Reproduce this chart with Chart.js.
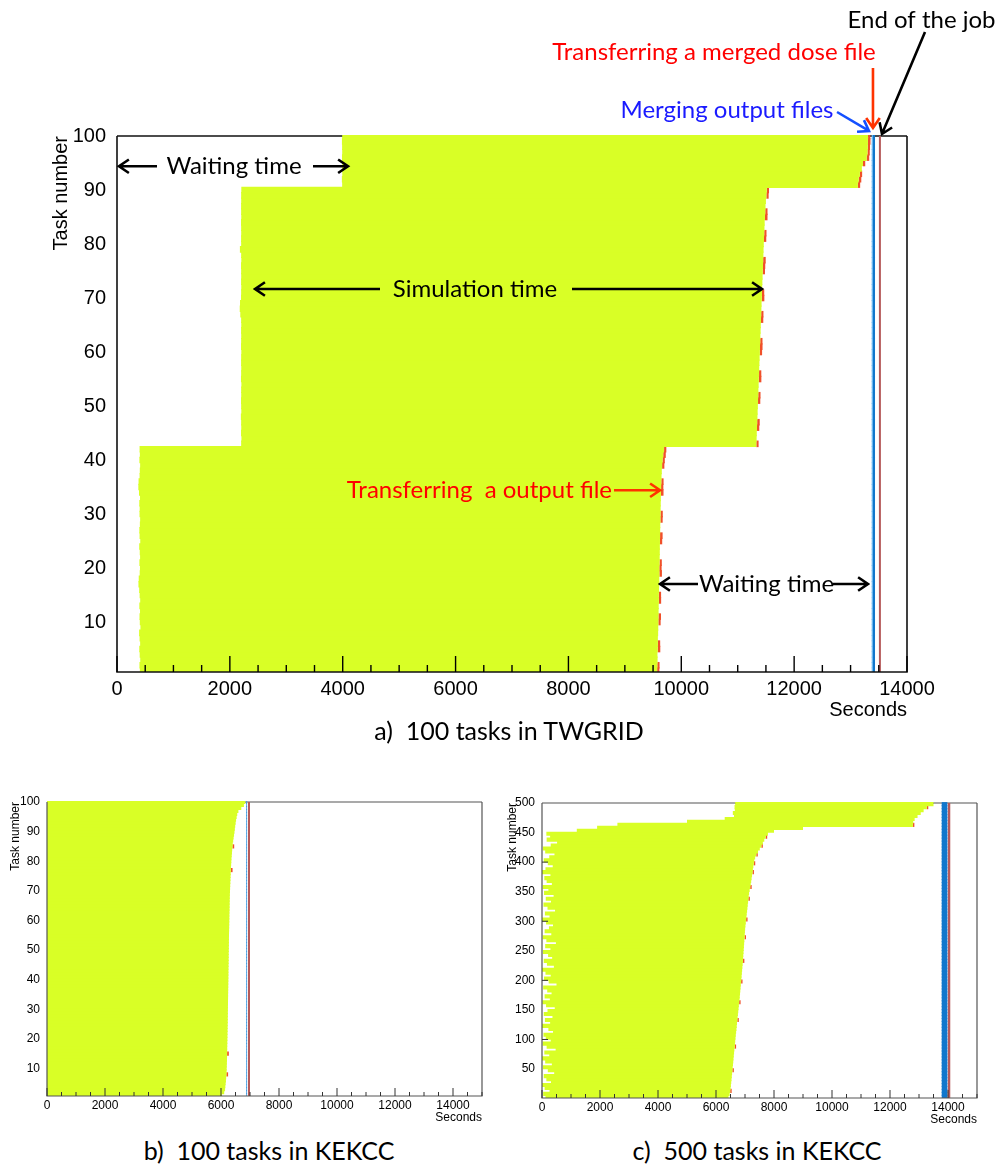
<!DOCTYPE html>
<html>
<head>
<meta charset="utf-8">
<script src="https://cdn.jsdelivr.net/npm/chart.js@4.4.1/dist/chart.umd.min.js"></script>
<style>
  body { margin: 0; background: #fff; }
  #page { position: relative; width: 999px; height: 1171px; overflow: hidden; background: #fff; }
  canvas { position: absolute; }
  .cap { position: absolute; font-family: Lato, sans-serif; font-size: 25px; line-height: 30px;
         color: #000; white-space: pre; transform: translateX(-50%); }
</style>
</head>
<body>
<div id="page">
  <canvas id="chartA" width="999" height="722" style="left:0;top:0"></canvas>
  <canvas id="chartB" width="499" height="350" style="left:0;top:780px"></canvas>
  <canvas id="chartC" width="500" height="350" style="left:499px;top:780px"></canvas>
  <div class="cap" style="left:509px;top:715px">a)  100 tasks in TWGRID</div>
  <div class="cap" style="left:269px;top:1135px">b)  100 tasks in KEKCC</div>
  <div class="cap" style="left:757px;top:1135px">c)  500 tasks in KEKCC</div>
</div>
<script>
// ---- a) 100 tasks in TWGRID (seconds) ----
const tasksA = Array.from({length: 100}, (_, i) => i + 1);
const startA = [
  405,398,412,402,395,410,400,392,415,404, 399,408,396,411,401,393,380,385,402,407,
  397,409,403,394,412,400,396,405,410,399, 402,395,408,390,378,382,400,404,410,397,
  405,400,
  2200,2205,2198,2202,2200,2195,2203,2200,2198,2201, 2200,2204,2197,2200,2202,2199,2200,2203,2198,2200,
  2201,2199,2202,2200,2185,2175,2180,2198,2200,2202, 2199,2201,2200,2198,2203,2200,2178,2200,2199,2201,
  2200,2198,2202,2200,2199,2201,2200,2203,
  3990,3985,3992,3988,3990,3987,3991,3989,3986,3990
];
const simEndA = [
  9572,9575,9580,9578,9583,9586,9585,9590,9592,9594, 9596,9598,9600,9603,9602,9606,9608,9610,9612,9611,
  9615,9617,9619,9620,9622,9624,9626,9628,9630,9632, 9634,9636,9638,9640,9642,9646,9650,9655,9660,9668,
  9680,9695,
  11330,11335,11338,11342,11345,11350,11353,11357,11360,11364, 11367,11371,11374,11378,11381,11385,11388,11392,11395,11399,
  11402,11406,11409,11413,11416,11420,11423,11427,11430,11434, 11437,11441,11444,11448,11451,11455,11458,11462,11466,11470,
  11474,11478,11483,11488,11493,11500,11508,11515,
  13130,13145,13165,13200,13220,13285,13300,13305,13308,13310
];
const xferA = [
  40,40,0,0,45,40,0,0,0,40, 45,0,0,40,40,0,0,0,45,40, 40,0,0,0,40,45,0,0,40,40,
  0,0,0,45,40,40,0,0,40,40, 45,40,
  40,0,0,40,45,0,0,0,40,40, 0,0,45,40,0,0,0,40,45,40, 0,0,0,40,40,0,0,45,40,0,
  0,0,40,40,45,0,0,0,40,40, 0,0,45,40,0,0,40,40,
  40,45,40,0,40,45,40,40,45,40
];
const mergeA = [13370, 13435];
const jobEndA = 13520;
const xTicksA = [0, 2000, 4000, 6000, 8000, 10000, 12000, 14000];
const yTicksA = [10, 20, 30, 40, 50, 60, 70, 80, 90, 100];

// ---- b) 100 tasks in KEKCC ----
const tasksB = Array.from({length: 100}, (_, i) => i + 1);
const startB = [
  0,0,0,0,0,0,0,0,0,0, 0,0,0,0,0,0,0,0,0,0, 0,0,0,0,0,0,0,0,0,0, 0,0,0,0,0,0,0,0,0,0,
  0,0,0,0,0,0,0,0,0,0, 0,0,0,0,0,0,0,0,0,0, 0,0,0,0,0,0,0,0,0,0, 0,0,0,0,0,0,0,0,0,0,
  0,0,0,0,0,0,0,0,0,0, 0,0,0,0,0,0,0,0,0,0
];
const simEndB = [
  6030,6110,6140,6150,6160,6170,6178,6185,6192,6196, 6200,6203,6206,6208,6210,6212,6214,6216,6218,6220,
  6222,6224,6226,6228,6230,6232,6233,6235,6236,6238, 6239,6241,6242,6244,6245,6247,6248,6250,6251,6253,
  6254,6256,6257,6259,6260,6262,6263,6265,6266,6268, 6269,6271,6272,6274,6276,6278,6280,6282,6284,6286,
  6288,6290,6292,6294,6296,6298,6300,6303,6306,6310, 6314,6318,6322,6326,6330,6334,6339,6344,6350,6356,
  6362,6370,6378,6386,6395,6405,6420,6435,6450,6465, 6478,6490,6505,6520,6540,6560,6600,6700,6790,6840
];
const xferB = [
  0,0,0,0,0,0,0,60,0,0, 0,0,0,0,60,0,0,0,0,0, 0,0,0,0,0,0,0,0,0,0, 0,0,0,0,0,0,0,0,0,0,
  0,0,0,0,0,0,0,0,0,0, 0,0,0,0,0,0,0,0,0,0, 0,0,0,0,0,0,0,0,0,0, 0,0,0,0,0,0,60,0,0,0,
  0,0,0,0,60,0,0,0,0,0, 0,0,0,0,0,0,0,0,0,0
];
const mergeB = [6862, 6905];
const jobEndB = 6965;
const xTicksBC = [0, 2000, 4000, 6000, 8000, 10000, 12000, 14000];
const yTicksB = [10, 20, 30, 40, 50, 60, 70, 80, 90, 100];

// ---- c) 500 tasks in KEKCC, read in groups of 5 tasks (centre task) ----
const tasksC = Array.from({length: 100}, (_, k) => 5 * k + 3);
const startC = [
  120,40,260,90,0,310,150,60,420,200, 30,340,110,0,250,80,470,160,20,300,
  130,50,380,220,0,280,100,360,60,190, 440,140,10,270,90,330,180,40,500,230,
  70,300,120,0,410,170,60,350,210,30, 290,110,480,150,20,320,90,240,380,140,
  0,260,100,450,190,50,310,130,400,70, 220,20,340,160,80,290,0,120,370,200,
  60,250,430,110,30,300,520,160,280,150, 1200,1900,2600,5000,6300,6620,6580,6650,6640,6660
];
const simEndC = [
  6430,6470,6490,6505,6515,6525,6535,6545,6555,6565, 6575,6585,6595,6603,6613,6623,6633,6643,6653,6663,
  6673,6683,6694,6705,6715,6725,6736,6746,6757,6767, 6778,6788,6798,6809,6819,6829,6838,6847,6856,6865,
  6874,6883,6892,6901,6910,6919,6928,6935,6942,6949, 6956,6963,6970,6977,6984,6991,6998,7005,7015,7027,
  7038,7049,7060,7072,7083,7094,7106,7117,7128,7140, 7160,7180,7198,7213,7228,7243,7258,7273,7288,7303,
  7318,7350,7390,7450,7510,7565,7615,7665,7715,7790, 8000,9000,12790,12800,12850,12950,13060,13160,13270,13500
];
const xferC = [
  0,0,50,0,0,0,0,0,0,50, 0,0,0,0,0,0,0,50,0,0, 0,0,0,0,0,0,50,0,0,0, 0,0,50,0,0,0,0,0,0,50,
  0,0,0,0,0,0,50,0,0,0, 0,0,0,0,50,0,0,0,0,0, 50,0,0,0,0,0,0,50,0,0, 0,50,0,0,0,0,50,0,0,50,
  0,0,50,0,0,50,0,0,50,0, 0,0,50,0,0,0,0,0,50,0
];
const mergeC = [13783, 13976];
const jobEndC = 14035;
const yTicksC = [50, 100, 150, 200, 250, 300, 350, 400, 450, 500];

const YELLOW = '#d9ff26';
const XFER = '#f0502a';
const MERGE = '#1177cc';
const MERGE_EDGE = '#6cb8f0';
const JOB_END = '#b65a5a';

Chart.defaults.font.family = "'Liberation Sans', Arial, sans-serif";

// frame and inward tick marks in the ROOT style
const frameTicks = {
  id: 'frameTicks',
  beforeDatasetsDraw(chart, args, o) {
    const {ctx, chartArea: a} = chart;
    ctx.save();
    ctx.strokeStyle = o.frameColor;
    ctx.lineWidth = o.frameWidth;
    ctx.beginPath();
    ctx.moveTo(a.left, a.top);
    ctx.lineTo(a.right, a.top);
    ctx.stroke();
    ctx.restore();
  },
  afterDatasetsDraw(chart, args, o) {
    const {ctx, chartArea: a, scales: {x, y}} = chart;
    ctx.save();
    ctx.strokeStyle = o.frameColor;
    ctx.lineWidth = o.frameWidth;
    ctx.beginPath();
    ctx.moveTo(a.left, a.top);
    ctx.lineTo(a.left, a.bottom);
    ctx.lineTo(a.right, a.bottom);
    ctx.lineTo(a.right, a.top);
    ctx.stroke();
    ctx.strokeStyle = o.tickColor;
    ctx.lineWidth = o.tickWidth;
    ctx.beginPath();
    for (let v = x.min; v <= x.max; v += o.minor) {
      const px = x.getPixelForValue(v);
      const len = v % o.major === 0 ? o.majorLen : o.minorLen;
      ctx.moveTo(px, a.bottom);
      ctx.lineTo(px, a.bottom - len);
    }
    (o.yTicks || []).forEach(v => {
      const py = y.getPixelForValue(v);
      ctx.moveTo(a.left, py);
      ctx.lineTo(a.left + o.yLen, py);
    });
    ctx.stroke();
    ctx.restore();
  }
};

function arrow(ctx, x1, y1, x2, y2, color) {
  const ang = Math.atan2(y2 - y1, x2 - x1);
  const h = 12;
  ctx.strokeStyle = color;
  ctx.lineWidth = 2.6;
  ctx.lineJoin = 'miter';
  ctx.beginPath();
  ctx.moveTo(x1, y1);
  ctx.lineTo(x2 - 1.5 * Math.cos(ang), y2 - 1.5 * Math.sin(ang));
  ctx.moveTo(x2 - h * Math.cos(ang - 0.6), y2 - h * Math.sin(ang - 0.6));
  ctx.lineTo(x2, y2);
  ctx.lineTo(x2 - h * Math.cos(ang + 0.6), y2 - h * Math.sin(ang + 0.6));
  ctx.stroke();
}

// text labels and arrows; x in seconds, y in task number or dy pixels from the frame top
const notes = {
  id: 'notes',
  afterDatasetsDraw(chart, args, o) {
    const {ctx, chartArea, scales: {x, y}} = chart;
    const pt = p => [x.getPixelForValue(p.x), p.dy !== undefined ? chartArea.top + p.dy : y.getPixelForValue(p.y)];
    ctx.save();
    ctx.font = o.font;
    ctx.textBaseline = 'middle';
    o.items.forEach(it => {
      if (it.text) {
        const [px, py] = pt(it.at);
        ctx.fillStyle = it.color;
        ctx.textAlign = it.align || 'center';
        ctx.fillText(it.text, px, py);
      } else {
        const [x1, y1] = pt(it.from);
        const [x2, y2] = pt(it.to);
        arrow(ctx, x1, y1, x2, y2, it.color);
      }
    });
    ctx.restore();
  }
};

function taskChart(id, o, plugins, pluginOpts) {
  const barBase = {
    indexAxis: 'y', grouped: false, barPercentage: o.overlap, categoryPercentage: 1,
    borderWidth: 0, clip: {left: 0, right: 0, top: 1, bottom: 0}
  };
  const last = o.tasks.length - 1;
  return new Chart(document.getElementById(id), {
    type: 'bar',
    data: {
      datasets: [
        {...barBase, label: 'Simulation', backgroundColor: YELLOW,
         data: o.tasks.map((t, i) => ({y: t, x: [o.start[i], o.simEnd[i]]}))},
        {...barBase, label: 'Transfer', backgroundColor: XFER,
         data: o.tasks.map((t, i) => ({y: t, x: [o.simEnd[i], o.simEnd[i] + o.xfer[i]]}))},
        {...barBase, label: 'Merging', backgroundColor: MERGE, borderColor: MERGE_EDGE,
         borderWidth: {left: o.mergeEdge, right: 0, top: 0, bottom: 0}, borderSkipped: false,
         data: o.tasks.map(t => ({y: t, x: o.merge}))},
        {type: 'line', label: 'End', borderColor: JOB_END, borderWidth: o.endWidth, pointRadius: 0,
         data: [{x: o.jobEnd, y: o.yMin}, {x: o.jobEnd, y: o.yMax}]},
        {type: 'line', label: 'top', borderColor: '#000', borderWidth: 1, borderDash: [1, 2], pointRadius: 0,
         data: [{x: o.start[last], y: o.yMax}, {x: o.simEnd[last], y: o.yMax}]}
      ]
    },
    options: {
      responsive: false,
      animation: false,
      devicePixelRatio: 1,
      layout: {padding: o.padding},
      plugins: Object.assign({legend: {display: false}, tooltip: {enabled: false}}, pluginOpts),
      scales: {
        x: {
          type: 'linear', min: 0, max: o.xMax, offset: false, beginAtZero: false,
          grid: {display: false, drawTicks: false}, border: {display: false},
          afterBuildTicks: s => { s.ticks = o.xTicks.map(v => ({value: v})); },
          afterFit: s => { s.height = o.xAxisH; },
          ticks: {autoSkip: false, maxRotation: 0, padding: o.xPad, color: '#000',
                  font: {size: o.fs}, callback: v => String(v)},
          title: {display: true, text: 'Seconds', align: 'end', color: '#000',
                  font: {size: o.fs}, padding: {top: 0, bottom: o.xTitlePad}}
        },
        y: {
          type: 'linear', min: o.yMin, max: o.yMax, offset: false, beginAtZero: false,
          grid: {display: false, drawTicks: false}, border: {display: false},
          afterBuildTicks: s => { s.ticks = o.yTicks.map(v => ({value: v})); },
          afterFit: s => { s.width = o.yAxisW; },
          ticks: {autoSkip: false, padding: o.yPad, color: '#000',
                  font: {size: o.fs}, callback: v => String(v)},
          title: {display: true, text: 'Task number', align: 'end', color: '#000',
                  font: {size: o.titleFs}, padding: {top: o.yTitlePad, bottom: 0}}
        }
      }
    },
    plugins: plugins
  });
}

const K = '#000', R = '#ff0000', RA = '#ff3300', B = '#1a1aff', BA = '#1450ff';

taskChart('chartA', {
  tasks: tasksA, start: startA, simEnd: simEndA, xfer: xferA, merge: mergeA, jobEnd: jobEndA,
  xTicks: xTicksA, yTicks: yTicksA, xMax: 14000, yMin: 0.75, yMax: 100, overlap: 1.22,
  padding: {left: 0, right: 92, top: 136, bottom: 0}, yAxisW: 117, xAxisH: 50,
  fs: 20, titleFs: 20, xPad: 5, yPad: 11, xTitlePad: 0, yTitlePad: 49, mergeEdge: 1.5, endWidth: 2
}, [frameTicks, notes], {
  frameTicks: {frameColor: '#111', frameWidth: 1.6, tickColor: '#000', tickWidth: 1.4,
               major: 2000, minor: 500, majorLen: 16, minorLen: 7},
  notes: {
    font: "24px Lato, 'Open Sans', sans-serif",
    items: [
      {text: 'Waiting time', at: {x: 2073, y: 94.4}, color: K},
      {from: {x: 709, y: 94.4}, to: {x: 35, y: 94.4}, color: K},
      {from: {x: 3473, y: 94.4}, to: {x: 4094, y: 94.4}, color: K},
      {text: 'Simulation time', at: {x: 6344, y: 71.67}, color: K},
      {from: {x: 4661, y: 71.67}, to: {x: 2446, y: 71.67}, color: K},
      {from: {x: 8063, y: 71.67}, to: {x: 11430, y: 71.67}, color: K},
      {text: 'Transferring  a output file', at: {x: 8772, y: 34.4}, align: 'right', color: R},
      {from: {x: 8808, y: 34.4}, to: {x: 9623, y: 34.4}, color: RA},
      {text: 'Waiting time', at: {x: 11510, y: 17.04}, color: K},
      {from: {x: 10296, y: 17.04}, to: {x: 9623, y: 17.04}, color: K},
      {from: {x: 12689, y: 17.04}, to: {x: 13309, y: 17.04}, color: K},
      {text: 'End of the job', at: {x: 14257, dy: -116}, color: K},
      {from: {x: 14319, dy: -104}, to: {x: 13557, dy: -2}, color: K},
      {text: 'Transferring a merged dose file', at: {x: 10580, dy: -84}, color: R},
      {from: {x: 13397, dy: -68}, to: {x: 13397, dy: -8}, color: RA},
      {text: 'Merging output files', at: {x: 10810, dy: -26}, color: B},
      {from: {x: 12760, dy: -24}, to: {x: 13327, dy: -5}, color: BA}
    ]
  }
});

taskChart('chartB', {
  tasks: tasksB, start: startB, simEnd: simEndB, xfer: xferB, merge: mergeB, jobEnd: jobEndB,
  xTicks: xTicksBC, yTicks: yTicksB, xMax: 15000, yMin: 0.7, yMax: 100, overlap: 1.4,
  padding: {left: 0, right: 17, top: 22, bottom: 0}, yAxisW: 47, xAxisH: 34,
  fs: 12, titleFs: 12, xPad: 2, yPad: 7, xTitlePad: 5, yTitlePad: 8, mergeEdge: 1, endWidth: 2
}, [frameTicks], {
  frameTicks: {frameColor: '#555', frameWidth: 1.2, tickColor: '#333', tickWidth: 1,
               major: 2000, minor: 500, majorLen: 8, minorLen: 4}
});

taskChart('chartC', {
  tasks: tasksC, start: startC, simEnd: simEndC, xfer: xferC, merge: mergeC, jobEnd: jobEndC,
  xTicks: xTicksBC, yTicks: yTicksC, xMax: 15000, yMin: 1, yMax: 500, overlap: 1.4,
  padding: {left: 0, right: 22, top: 23, bottom: 0}, yAxisW: 43, xAxisH: 32,
  fs: 12, titleFs: 12, xPad: 2, yPad: 7, xTitlePad: 3, yTitlePad: 6, mergeEdge: 0, endWidth: 2.5
}, [frameTicks], {
  frameTicks: {frameColor: '#555', frameWidth: 1.2, tickColor: '#333', tickWidth: 1,
               major: 2000, minor: 500, majorLen: 8, minorLen: 4,
               yTicks: [100, 200, 300, 400], yLen: 6}
});
</script>
</body>
</html>
